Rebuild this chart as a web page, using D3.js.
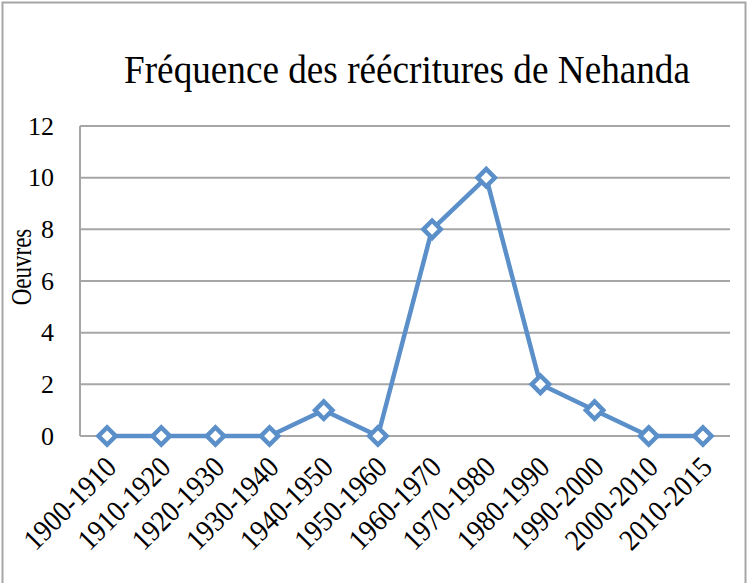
<!DOCTYPE html>
<html>
<head>
<meta charset="utf-8">
<script src="https://cdn.jsdelivr.net/npm/d3@7"></script>
<style>
  html, body { margin: 0; padding: 0; background: #fff; }
  svg { display: block; font-family: "Liberation Serif", "Times New Roman", serif; }
</style>
</head>
<body>
<div id="chart"></div>
<script>
const periods = ["1900-1910", "1910-1920", "1920-1930", "1930-1940", "1940-1950", "1950-1960",
                 "1960-1970", "1970-1980", "1980-1990", "1990-2000", "2000-2010", "2010-2015"];
const oeuvres = [0, 0, 0, 0, 1, 0, 8, 10, 2, 1, 0, 0];
const yTicks = [0, 2, 4, 6, 8, 10, 12];

const width = 748, height = 583;
const margin = { top: 126, right: 18, bottom: 147, left: 80 };
const blue = '#5b8fc9';
const grey = '#a6a6a6';

const svg = d3.select('#chart').append('svg')
    .attr('width', width)
    .attr('height', height);

// chart frame (bottom edge is cut off in the reference)
svg.append('rect')
    .attr('x', 2.5).attr('y', 2.5)
    .attr('width', width - 5).attr('height', height + 10)
    .attr('fill', '#fff')
    .attr('stroke', grey)
    .attr('stroke-width', 2);

const x = d3.scaleBand()
    .domain(periods)
    .range([margin.left, width - margin.right]);

const y = d3.scaleLinear()
    .domain([0, 12])
    .range([height - margin.bottom, margin.top]);

// gridlines
svg.append('g')
    .selectAll('line')
    .data(yTicks)
    .join('line')
    .attr('x1', margin.left)
    .attr('x2', width - margin.right)
    .attr('y1', d => y(d))
    .attr('y2', d => y(d))
    .attr('stroke', grey)
    .attr('stroke-width', 2);

// vertical axis line
svg.append('line')
    .attr('x1', margin.left).attr('x2', margin.left)
    .attr('y1', y(12)).attr('y2', y(0))
    .attr('stroke', grey)
    .attr('stroke-width', 2);

// y tick labels
const yAxis = svg.append('g')
    .attr('transform', `translate(${margin.left - 26},0)`)
    .call(d3.axisLeft(y).tickValues(yTicks).tickSize(0).tickPadding(0));
yAxis.select('.domain').remove();
yAxis.selectAll('text')
    .attr('font-family', '"Liberation Serif", serif')
    .attr('font-size', 26)
    .attr('fill', '#000');

// x tick labels, rotated
const xAxis = svg.append('g')
    .attr('transform', `translate(0,${y(0)})`)
    .call(d3.axisBottom(x).tickSize(0).tickPadding(0));
xAxis.select('.domain').remove();
xAxis.selectAll('text')
    .attr('font-family', '"Liberation Serif", serif')
    .attr('font-size', 27)
    .attr('fill', '#000')
    .attr('text-anchor', 'end')
    .attr('dy', 0)
    .attr('y', 0)
    .attr('transform', 'translate(11,33) rotate(-45) scale(1,1.1)');

// y axis title
svg.append('text')
    .attr('transform', 'translate(31,267) rotate(-90) scale(1,1.25)')
    .attr('text-anchor', 'middle')
    .attr('font-size', 23)
    .text('Oeuvres');

// title
svg.append('text')
    .attr('transform', 'translate(407,83) scale(1,1.06)')
    .attr('text-anchor', 'middle')
    .attr('font-size', 37.2)
    .text('Fréquence des réécritures de Nehanda');

const cx = d => x(d) + x.bandwidth() / 2;

// line
svg.append('path')
    .datum(oeuvres)
    .attr('fill', 'none')
    .attr('stroke', blue)
    .attr('stroke-width', 4.5)
    .attr('stroke-linejoin', 'round')
    .attr('d', d3.line()
        .x((d, i) => cx(periods[i]))
        .y(d => y(d)));

// diamond markers
svg.append('g')
    .selectAll('path')
    .data(oeuvres)
    .join('path')
    .attr('d', d3.symbol(d3.symbolSquare, 150)())
    .attr('transform', (d, i) => `translate(${cx(periods[i])},${y(d)}) rotate(45)`)
    .attr('fill', '#fff')
    .attr('stroke', blue)
    .attr('stroke-width', 4.5);
</script>
</body>
</html>
